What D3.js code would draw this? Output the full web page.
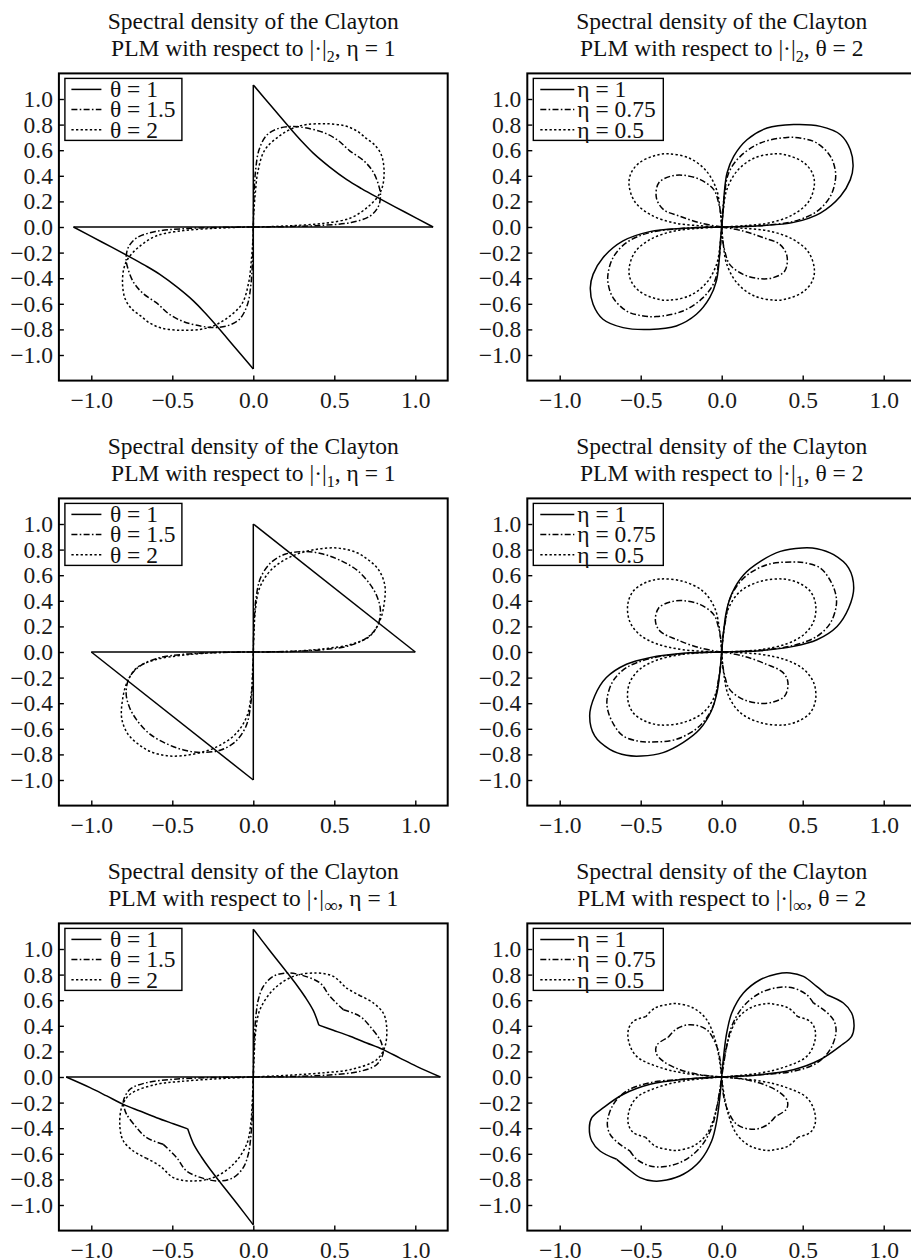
<!DOCTYPE html>
<html>
<head>
<meta charset="utf-8">
<script src="https://cdn.jsdelivr.net/npm/d3@7"></script>
<style>
html,body{margin:0;padding:0;background:#fff;}
svg{display:block;}
</style>
</head>
<body>
<div id="chart"></div>
<script>
// ---------- tick values ----------
const xTicks = [-1, -0.5, 0, 0.5, 1];
const yTicks = [-1, -0.8, -0.6, -0.4, -0.2, 0, 0.2, 0.4, 0.6, 0.8, 1];

// ---------- legend labels ----------
const thetaLabels = ["θ = 1", "θ = 1.5", "θ = 2"];
const etaLabels = ["η = 1", "η = 0.75", "η = 0.5"];

// ---------- panel (1,1): |.|_2, eta = 1 ----------
const l2Theta1 = [
  [[0,-1.11],[0,1.11]],
  [[-1.11,0],[1.11,0]],
  [[0,1.11],[0.117,0.935],[0.235,0.76],[0.3,0.668],[0.37,0.577],[0.47,0.47],[0.577,0.37],[0.668,0.3],[0.76,0.235],[0.935,0.117],[1.11,0]],
  [[0,-1.11],[-0.117,-0.935],[-0.235,-0.76],[-0.3,-0.668],[-0.37,-0.577],[-0.47,-0.47],[-0.577,-0.37],[-0.668,-0.3],[-0.76,-0.235],[-0.935,-0.117],[-1.11,0]]
];
const l2Theta15 = [
  [[0,0],[0.235,0.004],[0.44,0.014],[0.605,0.036],[0.72,0.085],[0.772,0.16],[0.785,0.25],[0.775,0.32],[0.74,0.43],[0.68,0.52],[0.595,0.595],[0.52,0.68],[0.43,0.74],[0.32,0.775],[0.25,0.785],[0.16,0.772],[0.085,0.72],[0.036,0.605],[0.014,0.44],[0.004,0.235],[0,0]],
  [[0,0],[-0.235,-0.004],[-0.44,-0.014],[-0.605,-0.036],[-0.72,-0.085],[-0.772,-0.16],[-0.785,-0.25],[-0.775,-0.32],[-0.74,-0.43],[-0.68,-0.52],[-0.595,-0.595],[-0.52,-0.68],[-0.43,-0.74],[-0.32,-0.775],[-0.25,-0.785],[-0.16,-0.772],[-0.085,-0.72],[-0.036,-0.605],[-0.014,-0.44],[-0.004,-0.235],[0,0]]
];
const l2Theta2 = [
  [[0,0],[0.11,0.003],[0.26,0.012],[0.43,0.028],[0.6,0.07],[0.71,0.16],[0.775,0.25],[0.8,0.33],[0.807,0.45],[0.79,0.565],[0.75,0.64],[0.695,0.695],[0.64,0.75],[0.565,0.79],[0.45,0.807],[0.33,0.8],[0.25,0.775],[0.16,0.71],[0.07,0.6],[0.028,0.43],[0.012,0.26],[0.003,0.11],[0,0]],
  [[0,0],[-0.11,-0.003],[-0.26,-0.012],[-0.43,-0.028],[-0.6,-0.07],[-0.71,-0.16],[-0.775,-0.25],[-0.8,-0.33],[-0.807,-0.45],[-0.79,-0.565],[-0.75,-0.64],[-0.695,-0.695],[-0.64,-0.75],[-0.565,-0.79],[-0.45,-0.807],[-0.33,-0.8],[-0.25,-0.775],[-0.16,-0.71],[-0.07,-0.6],[-0.028,-0.43],[-0.012,-0.26],[-0.003,-0.11],[0,0]]
];

// ---------- panel (2,1): |.|_1, eta = 1 ----------
const l1Theta1 = [
  [[0,1],[1,0]],
  [[1,0],[-1,0]],
  [[-1,0],[0,-1]],
  [[0,-1],[0,1]]
];
const l1Theta15 = [
  [[0,0],[0.21,0.004],[0.43,0.018],[0.58,0.045],[0.7,0.11],[0.765,0.2],[0.785,0.32],[0.765,0.43],[0.72,0.53],[0.64,0.64],[0.53,0.72],[0.43,0.765],[0.32,0.785],[0.2,0.765],[0.11,0.7],[0.045,0.58],[0.018,0.43],[0.004,0.21],[0,0]],
  [[0,0],[-0.21,-0.004],[-0.43,-0.018],[-0.58,-0.045],[-0.7,-0.11],[-0.765,-0.2],[-0.785,-0.32],[-0.765,-0.43],[-0.72,-0.53],[-0.64,-0.64],[-0.53,-0.72],[-0.43,-0.765],[-0.32,-0.785],[-0.2,-0.765],[-0.11,-0.7],[-0.045,-0.58],[-0.018,-0.43],[-0.004,-0.21],[0,0]]
];
const l1Theta2 = [
  [[0,0],[0.235,0.005],[0.44,0.026],[0.605,0.06],[0.72,0.125],[0.78,0.24],[0.808,0.38],[0.812,0.52],[0.775,0.64],[0.715,0.715],[0.64,0.775],[0.523,0.812],[0.38,0.8],[0.235,0.747],[0.111,0.643],[0.039,0.5],[0.012,0.318],[0.004,0.135],[0,0]],
  [[0,0],[-0.235,-0.005],[-0.44,-0.026],[-0.605,-0.06],[-0.72,-0.125],[-0.78,-0.24],[-0.808,-0.38],[-0.812,-0.52],[-0.775,-0.64],[-0.715,-0.715],[-0.64,-0.775],[-0.523,-0.812],[-0.38,-0.8],[-0.235,-0.747],[-0.111,-0.643],[-0.039,-0.5],[-0.012,-0.318],[-0.004,-0.135],[0,0]]
];

// ---------- panel (3,1): |.|_inf, eta = 1 ----------
const linfTheta1 = [
  [[0,-1.155],[0,1.155]],
  [[-1.155,0],[1.155,0]],
  [[0,1.155],[0.1,0.99],[0.2,0.83],[0.27,0.715],[0.32,0.625],[0.37,0.52],[0.405,0.405]],
  [[0.405,0.405],[0.494,0.365],[0.597,0.318],[0.7,0.266],[0.802,0.214],[0.905,0.148],[1.008,0.083],[1.155,0]],
  [[0,-1.155],[-0.1,-0.99],[-0.2,-0.83],[-0.27,-0.715],[-0.32,-0.625],[-0.37,-0.52],[-0.405,-0.405]],
  [[-0.405,-0.405],[-0.494,-0.365],[-0.597,-0.318],[-0.7,-0.266],[-0.802,-0.214],[-0.905,-0.148],[-1.008,-0.083],[-1.155,0]]
];
const linfTheta15 = [
  [[0,0],[0.288,0.005],[0.494,0.018],[0.658,0.044],[0.761,0.096],[0.802,0.188],[0.795,0.25],[0.782,0.292],[0.72,0.396],[0.658,0.474],[0.556,0.526]],
  [[0.556,0.526],[0.473,0.63],[0.412,0.734],[0.3,0.795],[0.206,0.8125],[0.123,0.786],[0.062,0.708],[0.031,0.604],[0.016,0.474],[0.006,0.292],[0,0]],
  [[0,0],[-0.288,-0.005],[-0.494,-0.018],[-0.658,-0.044],[-0.761,-0.096],[-0.802,-0.188],[-0.795,-0.25],[-0.782,-0.292],[-0.72,-0.396],[-0.658,-0.474],[-0.556,-0.526]],
  [[-0.556,-0.526],[-0.473,-0.63],[-0.412,-0.734],[-0.3,-0.795],[-0.206,-0.8125],[-0.123,-0.786],[-0.062,-0.708],[-0.031,-0.604],[-0.016,-0.474],[-0.006,-0.292],[0,0]]
];
const linfTheta2 = [
  [[0,0],[0.237,0.015],[0.45,0.035],[0.597,0.057],[0.761,0.135],[0.813,0.24],[0.823,0.396],[0.802,0.5],[0.741,0.578],[0.66,0.635]],
  [[0.66,0.635],[0.576,0.695],[0.494,0.786],[0.391,0.8125],[0.247,0.786],[0.123,0.682],[0.041,0.526],[0.016,0.37],[0.006,0.1875],[0,0]],
  [[0,0],[-0.237,-0.015],[-0.45,-0.035],[-0.597,-0.057],[-0.761,-0.135],[-0.813,-0.24],[-0.823,-0.396],[-0.802,-0.5],[-0.741,-0.578],[-0.66,-0.635]],
  [[-0.66,-0.635],[-0.576,-0.695],[-0.494,-0.786],[-0.391,-0.8125],[-0.247,-0.786],[-0.123,-0.682],[-0.041,-0.526],[-0.016,-0.37],[-0.006,-0.1875],[0,0]]
];

// ---------- panel (1,2): |.|_2, theta = 2 ----------
const l2Eta1 = [
  [[0,0],[0.235,0.01],[0.444,0.036],[0.609,0.109],[0.733,0.24],[0.794,0.37],[0.811,0.474],[0.794,0.604],[0.733,0.721],[0.609,0.786],[0.444,0.8],[0.28,0.773],[0.156,0.682],[0.074,0.552],[0.033,0.422],[0.016,0.266],[0.008,0.109],[0,0]],
  [[0,0],[-0.235,-0.01],[-0.444,-0.036],[-0.609,-0.109],[-0.733,-0.24],[-0.794,-0.37],[-0.811,-0.474],[-0.794,-0.604],[-0.733,-0.721],[-0.609,-0.786],[-0.444,-0.8],[-0.28,-0.773],[-0.156,-0.682],[-0.074,-0.552],[-0.033,-0.422],[-0.016,-0.266],[-0.008,-0.109],[0,0]]
];
const l2Eta075 = [
  [[0,0],[0.235,0.01],[0.444,0.044],[0.588,0.122],[0.671,0.24],[0.702,0.37],[0.7,0.45],[0.671,0.552],[0.588,0.656],[0.5,0.692],[0.403,0.7],[0.239,0.656],[0.115,0.552],[0.043,0.422],[0.016,0.24],[0.004,0.1],[0,0]],
  [[0,0],[-0.132,0.031],[-0.255,0.083],[-0.358,0.135],[-0.403,0.227],[-0.389,0.344],[-0.317,0.396],[-0.235,0.404],[-0.132,0.37],[-0.049,0.292],[-0.019,0.1875],[-0.004,0.083],[0,0]],
  [[0,0],[-0.235,-0.01],[-0.444,-0.044],[-0.588,-0.122],[-0.671,-0.24],[-0.702,-0.37],[-0.7,-0.45],[-0.671,-0.552],[-0.588,-0.656],[-0.5,-0.692],[-0.403,-0.7],[-0.239,-0.656],[-0.115,-0.552],[-0.043,-0.422],[-0.016,-0.24],[-0.004,-0.1],[0,0]],
  [[0,0],[0.132,-0.031],[0.255,-0.083],[0.358,-0.135],[0.403,-0.227],[0.389,-0.344],[0.317,-0.396],[0.235,-0.404],[0.132,-0.37],[0.049,-0.292],[0.019,-0.1875],[0.004,-0.083],[0,0]]
];
const l2Eta05 = [
  [[0,0],[0.135,0.01],[0.29,0.031],[0.435,0.093],[0.535,0.195],[0.572,0.33],[0.56,0.42],[0.51,0.5],[0.42,0.555],[0.33,0.572],[0.195,0.535],[0.093,0.435],[0.031,0.29],[0.01,0.135],[0,0]],
  [[0,0],[-0.135,0.01],[-0.29,0.031],[-0.435,0.093],[-0.535,0.195],[-0.572,0.33],[-0.56,0.42],[-0.51,0.5],[-0.42,0.555],[-0.33,0.572],[-0.195,0.535],[-0.093,0.435],[-0.031,0.29],[-0.01,0.135],[0,0]],
  [[0,0],[-0.135,-0.01],[-0.29,-0.031],[-0.435,-0.093],[-0.535,-0.195],[-0.572,-0.33],[-0.56,-0.42],[-0.51,-0.5],[-0.42,-0.555],[-0.33,-0.572],[-0.195,-0.535],[-0.093,-0.435],[-0.031,-0.29],[-0.01,-0.135],[0,0]],
  [[0,0],[0.135,-0.01],[0.29,-0.031],[0.435,-0.093],[0.535,-0.195],[0.572,-0.33],[0.56,-0.42],[0.51,-0.5],[0.42,-0.555],[0.33,-0.572],[0.195,-0.535],[0.093,-0.435],[0.031,-0.29],[0.01,-0.135],[0,0]]
];

// ---------- panel (2,2): |.|_1, theta = 2 ----------
const l1Eta1 = [
  [[0,0],[0.239,0.01],[0.444,0.044],[0.588,0.096],[0.712,0.2],[0.784,0.344],[0.815,0.5],[0.784,0.656],[0.691,0.76],[0.588,0.807],[0.496,0.8125],[0.362,0.786],[0.239,0.708],[0.136,0.604],[0.064,0.461],[0.029,0.318],[0.012,0.161],[0,0]],
  [[0,0],[-0.239,-0.01],[-0.444,-0.044],[-0.588,-0.096],[-0.712,-0.2],[-0.784,-0.344],[-0.815,-0.5],[-0.784,-0.656],[-0.691,-0.76],[-0.588,-0.807],[-0.496,-0.8125],[-0.362,-0.786],[-0.239,-0.708],[-0.136,-0.604],[-0.064,-0.461],[-0.029,-0.318],[-0.012,-0.161],[0,0]]
];
const l1Eta075 = [
  [[0,0],[0.239,0.013],[0.444,0.052],[0.588,0.122],[0.671,0.227],[0.708,0.37],[0.7,0.47],[0.66,0.58],[0.609,0.656],[0.52,0.695],[0.444,0.703],[0.28,0.682],[0.136,0.578],[0.053,0.422],[0.023,0.24],[0.006,0.1],[0,0]],
  [[0,0],[-0.132,0.031],[-0.276,0.096],[-0.379,0.161],[-0.409,0.24],[-0.389,0.344],[-0.317,0.391],[-0.235,0.401],[-0.132,0.37],[-0.049,0.292],[-0.019,0.1875],[-0.004,0.083],[0,0]],
  [[0,0],[-0.239,-0.013],[-0.444,-0.052],[-0.588,-0.122],[-0.671,-0.227],[-0.708,-0.37],[-0.7,-0.47],[-0.66,-0.58],[-0.609,-0.656],[-0.52,-0.695],[-0.444,-0.703],[-0.28,-0.682],[-0.136,-0.578],[-0.053,-0.422],[-0.023,-0.24],[-0.006,-0.1],[0,0]],
  [[0,0],[0.132,-0.031],[0.276,-0.096],[0.379,-0.161],[0.409,-0.24],[0.389,-0.344],[0.317,-0.391],[0.235,-0.401],[0.132,-0.37],[0.049,-0.292],[0.019,-0.1875],[0.004,-0.083],[0,0]]
];
const l1Eta05 = [
  [[0,0],[0.239,0.018],[0.403,0.065],[0.506,0.135],[0.568,0.24],[0.58,0.37],[0.547,0.474],[0.475,0.539],[0.383,0.57],[0.239,0.552],[0.115,0.474],[0.043,0.344],[0.012,0.161],[0,0]],
  [[0,0],[-0.239,0.018],[-0.403,0.065],[-0.506,0.135],[-0.568,0.24],[-0.58,0.37],[-0.547,0.474],[-0.475,0.539],[-0.383,0.57],[-0.239,0.552],[-0.115,0.474],[-0.043,0.344],[-0.012,0.161],[0,0]],
  [[0,0],[-0.239,-0.018],[-0.403,-0.065],[-0.506,-0.135],[-0.568,-0.24],[-0.58,-0.37],[-0.547,-0.474],[-0.475,-0.539],[-0.383,-0.57],[-0.239,-0.552],[-0.115,-0.474],[-0.043,-0.344],[-0.012,-0.161],[0,0]],
  [[0,0],[0.239,-0.018],[0.403,-0.065],[0.506,-0.135],[0.568,-0.24],[0.58,-0.37],[0.547,-0.474],[0.475,-0.539],[0.383,-0.57],[0.239,-0.552],[0.115,-0.474],[0.043,-0.344],[0.012,-0.161],[0,0]]
];

// ---------- panel (3,2): |.|_inf, theta = 2 ----------
const linfEta1 = [
  [[0,0],[0.237,0.018],[0.442,0.057],[0.607,0.135],[0.73,0.24],[0.802,0.318],[0.817,0.396],[0.802,0.5],[0.751,0.578],[0.648,0.643]],
  [[0.648,0.643],[0.586,0.708],[0.504,0.786],[0.422,0.8125],[0.34,0.805],[0.237,0.76],[0.134,0.656],[0.062,0.5],[0.031,0.344],[0.014,0.1875],[0,0]],
  [[0,0],[-0.237,-0.018],[-0.442,-0.057],[-0.607,-0.135],[-0.73,-0.24],[-0.802,-0.318],[-0.817,-0.396],[-0.802,-0.5],[-0.751,-0.578],[-0.648,-0.643]],
  [[-0.648,-0.643],[-0.586,-0.708],[-0.504,-0.786],[-0.422,-0.8125],[-0.34,-0.805],[-0.237,-0.76],[-0.134,-0.656],[-0.062,-0.5],[-0.031,-0.344],[-0.014,-0.1875],[0,0]]
];
const linfEta075 = [
  [[0,0],[0.237,0.018],[0.442,0.044],[0.586,0.109],[0.669,0.214],[0.706,0.357],[0.689,0.448],[0.628,0.526],[0.566,0.578]],
  [[0.566,0.578],[0.525,0.643],[0.442,0.695],[0.35,0.7],[0.237,0.656],[0.134,0.552],[0.062,0.396],[0.027,0.214],[0,0]],
  [[0,0],[-0.134,0.018],[-0.257,0.057],[-0.36,0.122],[-0.405,0.1875],[-0.4,0.25],[-0.33,0.31]],
  [[-0.33,0.31],[-0.28,0.375],[-0.195,0.409],[-0.093,0.37],[-0.031,0.24],[-0.01,0.135],[0,0]],
  [[0,0],[-0.237,-0.018],[-0.442,-0.044],[-0.586,-0.109],[-0.669,-0.214],[-0.706,-0.357],[-0.689,-0.448],[-0.628,-0.526],[-0.566,-0.578]],
  [[-0.566,-0.578],[-0.525,-0.643],[-0.442,-0.695],[-0.35,-0.7],[-0.237,-0.656],[-0.134,-0.552],[-0.062,-0.396],[-0.027,-0.214],[0,0]],
  [[0,0],[0.134,-0.018],[0.257,-0.057],[0.36,-0.122],[0.405,-0.1875],[0.4,-0.25],[0.33,-0.31]],
  [[0.33,-0.31],[0.28,-0.375],[0.195,-0.409],[0.093,-0.37],[0.031,-0.24],[0.01,-0.135],[0,0]]
];
const linfEta05 = [
  [[0,0],[0.237,0.031],[0.401,0.083],[0.525,0.161],[0.572,0.266],[0.576,0.37],[0.545,0.435],[0.47,0.47]],
  [[0.47,0.47],[0.412,0.539],[0.34,0.565],[0.278,0.573],[0.175,0.539],[0.093,0.448],[0.041,0.292],[0.014,0.135],[0,0]],
  [[0,0],[-0.237,0.031],[-0.401,0.083],[-0.525,0.161],[-0.572,0.266],[-0.576,0.37],[-0.545,0.435],[-0.47,0.47]],
  [[-0.47,0.47],[-0.412,0.539],[-0.34,0.565],[-0.278,0.573],[-0.175,0.539],[-0.093,0.448],[-0.041,0.292],[-0.014,0.135],[0,0]],
  [[0,0],[-0.237,-0.031],[-0.401,-0.083],[-0.525,-0.161],[-0.572,-0.266],[-0.576,-0.37],[-0.545,-0.435],[-0.47,-0.47]],
  [[-0.47,-0.47],[-0.412,-0.539],[-0.34,-0.565],[-0.278,-0.573],[-0.175,-0.539],[-0.093,-0.448],[-0.041,-0.292],[-0.014,-0.135],[0,0]],
  [[0,0],[0.237,-0.031],[0.401,-0.083],[0.525,-0.161],[0.572,-0.266],[0.576,-0.37],[0.545,-0.435],[0.47,-0.47]],
  [[0.47,-0.47],[0.412,-0.539],[0.34,-0.565],[0.278,-0.573],[0.175,-0.539],[0.093,-0.448],[0.041,-0.292],[0.014,-0.135],[0,0]]
];

// ---------- panels ----------
const panels = [
  {row:0, col:0, norm:"2", param:"η = 1", labels:thetaLabels, series:[l2Theta1, l2Theta15, l2Theta2]},
  {row:0, col:1, norm:"2", param:"θ = 2", labels:etaLabels, series:[l2Eta1, l2Eta075, l2Eta05]},
  {row:1, col:0, norm:"1", param:"η = 1", labels:thetaLabels, series:[l1Theta1, l1Theta15, l1Theta2]},
  {row:1, col:1, norm:"1", param:"θ = 2", labels:etaLabels, series:[l1Eta1, l1Eta075, l1Eta05]},
  {row:2, col:0, norm:"∞", param:"η = 1", labels:thetaLabels, series:[linfTheta1, linfTheta15, linfTheta2]},
  {row:2, col:1, norm:"∞", param:"θ = 2", labels:etaLabels, series:[linfEta1, linfEta075, linfEta05]}
];

// ---------- layout & style ----------
const W = 911, H = 1260;
const colLeft = [58.9, 527.3];
const rowTop = [73.4, 498.4, 923.4];
const PW = 388.8, PH = 307.2;
const FONT = "'Liberation Serif','Times New Roman',Times,serif";
const FS = 23.5;
const dashes = [null, "6,2.3,1.6,2.3", "2.3,2.3"];
const legendW = [117, 130];

const svg = d3.select("#chart").append("svg")
  .attr("width", W).attr("height", H)
  .attr("viewBox", `0 0 ${W} ${H}`)
  .style("background", "#fff");

panels.forEach(p => {
  const g = svg.append("g").attr("transform", `translate(${colLeft[p.col]},${rowTop[p.row]})`);
  const x = d3.scaleLinear().domain([-1.2, 1.2]).range([0, PW]);
  const y = d3.scaleLinear().domain([-1.2, 1.2]).range([PH, 0]);
  const line = d3.line().x(d => x(d[0])).y(d => y(d[1])).curve(d3.curveCatmullRom.alpha(0.5));

  // title
  const t = g.append("g").attr("font-family", FONT).attr("font-size", FS).attr("fill", "#111").attr("text-anchor", "middle");
  t.append("text").attr("x", PW / 2).attr("y", -44.5).text("Spectral density of the Clayton");
  const t2 = t.append("text").attr("x", PW / 2).attr("y", -17.5);
  t2.append("tspan").text("PLM with respect to |·|");
  t2.append("tspan").attr("dy", 6).attr("font-size", p.norm === "∞" ? 19 : 16).text(p.norm);
  t2.append("tspan").attr("dy", -6).text(", " + p.param);

  // curves
  p.series.forEach((segs, i) => {
    const sg = g.append("g")
      .attr("fill", "none").attr("stroke", "#000")
      .attr("stroke-width", 1.5).attr("stroke-linejoin", "round");
    if (dashes[i]) sg.attr("stroke-dasharray", dashes[i]);
    segs.forEach(seg => sg.append("path").attr("d", line(seg)));
  });

  // axes (inward ticks)
  const fmt = d3.format(".1f");
  const ax = g.append("g").attr("transform", `translate(0,${PH})`)
    .call(d3.axisBottom(x).tickValues(xTicks).tickFormat(fmt).tickSizeInner(-5).tickSizeOuter(0).tickPadding(10.5));
  const ay = g.append("g")
    .call(d3.axisLeft(y).tickValues(yTicks).tickFormat(fmt).tickSizeInner(-5).tickSizeOuter(0).tickPadding(6));
  [ax, ay].forEach(a => {
    a.attr("font-family", FONT).attr("font-size", FS);
    a.select(".domain").remove();
    a.selectAll(".tick line").attr("stroke", "#000").attr("stroke-width", 1.4);
    a.selectAll(".tick text").attr("fill", "#1a1a1a");
  });

  // frame
  g.append("rect").attr("x", 0).attr("y", 0).attr("width", PW).attr("height", PH)
    .attr("fill", "none").attr("stroke", "#000").attr("stroke-width", 2);

  // legend
  const lw = legendW[p.col];
  const lg = g.append("g").attr("transform", `translate(6,5)`);
  lg.append("rect").attr("width", lw).attr("height", 62)
    .attr("fill", "#fff").attr("stroke", "#000").attr("stroke-width", 1.4);
  const lineX0 = p.col === 0 ? 6.5 : 7;
  const lineX1 = p.col === 0 ? 36.5 : 41;
  const textX = p.col === 0 ? 45 : 44;
  p.labels.forEach((lab, i) => {
    const cy = 11 + i * 20.2;
    const l = lg.append("line").attr("x1", lineX0).attr("x2", lineX1).attr("y1", cy).attr("y2", cy)
      .attr("stroke", "#000").attr("stroke-width", 1.5);
    if (dashes[i]) l.attr("stroke-dasharray", dashes[i]);
    lg.append("text").attr("x", textX).attr("y", cy).attr("dy", "0.33em")
      .attr("font-family", FONT).attr("font-size", FS).attr("fill", "#111").text(lab);
  });
});
</script>
</body>
</html>
